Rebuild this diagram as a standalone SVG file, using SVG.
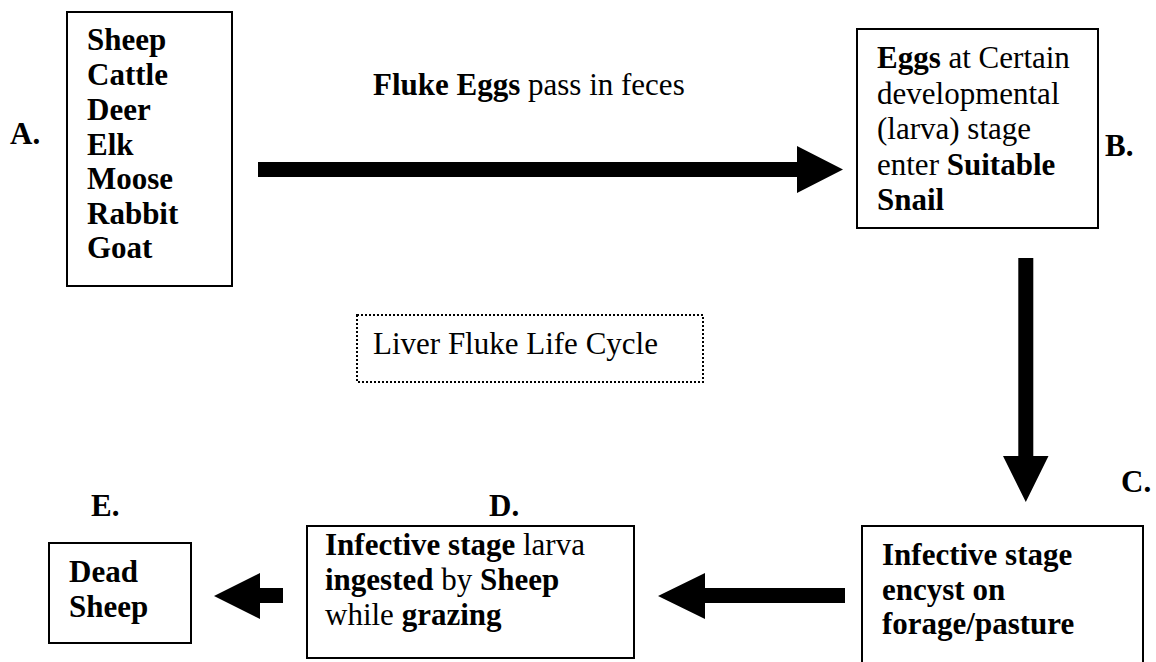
<svg xmlns="http://www.w3.org/2000/svg" width="1156" height="662" viewBox="0 0 1156 662">
<style>
text{font-family:"Liberation Serif","Times New Roman",serif;font-size:31px;fill:#000}
.b{font-weight:bold}
.box{fill:#fff;stroke:#000;stroke-width:2}
.dot{fill:none;stroke:#000;stroke-width:2;stroke-dasharray:2 2}
.arr{fill:#000;stroke:none}
</style>
<rect width="1156" height="662" fill="#fff"/>
<g id="connectors">
<polygon class="arr" points="258,162 797,162 797,146 843,169.5 797,193 797,177 258,177"/>
<polygon class="arr" points="1018.3,258 1033.3,258 1033.3,456 1048.5,456 1025.8,502 1003,456 1018.3,456"/>
<polygon class="arr" points="845,588 705,588 705,573 658,596 705,619 705,603 845,603"/>
<polygon class="arr" points="283,588 260,588 260,573 214,596 260,619 260,603 283,603"/>
</g>
<g id="nodeA">
<rect class="box" x="67" y="12" width="165" height="274"/>
<text class="b" x="87" y="50">Sheep</text>
<text class="b" x="87" y="85">Cattle</text>
<text class="b" x="87" y="120">Deer</text>
<text class="b" x="87" y="155">Elk</text>
<text class="b" x="87" y="189">Moose</text>
<text class="b" x="87" y="224">Rabbit</text>
<text class="b" x="87" y="258">Goat</text>
</g>
<text id="labelA" class="b" x="10" y="144">A.</text>
<text id="edgeLabel" x="373" y="95"><tspan class="b">Fluke Eggs</tspan> pass in feces</text>
<g id="nodeB">
<rect class="box" x="857" y="29" width="241" height="199"/>
<text x="877" y="68"><tspan class="b">Eggs</tspan> at Certain</text>
<text x="877" y="103.5">developmental</text>
<text x="877" y="139">(larva) stage</text>
<text x="877" y="174.5">enter <tspan class="b">Suitable</tspan></text>
<text class="b" x="877" y="210">Snail</text>
</g>
<text id="labelB" class="b" x="1105" y="156">B.</text>
<g id="title">
<rect class="dot" x="357" y="315" width="346" height="67"/>
<text x="373" y="354">Liver Fluke Life Cycle</text>
</g>
<g id="nodeC">
<rect class="box" x="862" y="526" width="281" height="150"/>
<text class="b" x="882" y="565">Infective stage</text>
<text class="b" x="882" y="600">encyst on</text>
<text class="b" x="882" y="634">forage/pasture</text>
</g>
<text id="labelC" class="b" x="1121" y="492">C.</text>
<g id="nodeD">
<rect class="box" x="307" y="526" width="327" height="132"/>
<text x="325" y="555"><tspan class="b">Infective stage</tspan> larva</text>
<text x="325" y="590"><tspan class="b">ingested</tspan> by <tspan class="b">Sheep</tspan></text>
<text x="325" y="625">while <tspan class="b">grazing</tspan></text>
</g>
<text id="labelD" class="b" x="489" y="516">D.</text>
<g id="nodeE">
<rect class="box" x="49" y="543" width="142" height="100"/>
<text class="b" x="69" y="582">Dead</text>
<text class="b" x="69" y="617">Sheep</text>
</g>
<text id="labelE" class="b" x="91" y="516">E.</text>
</svg>
